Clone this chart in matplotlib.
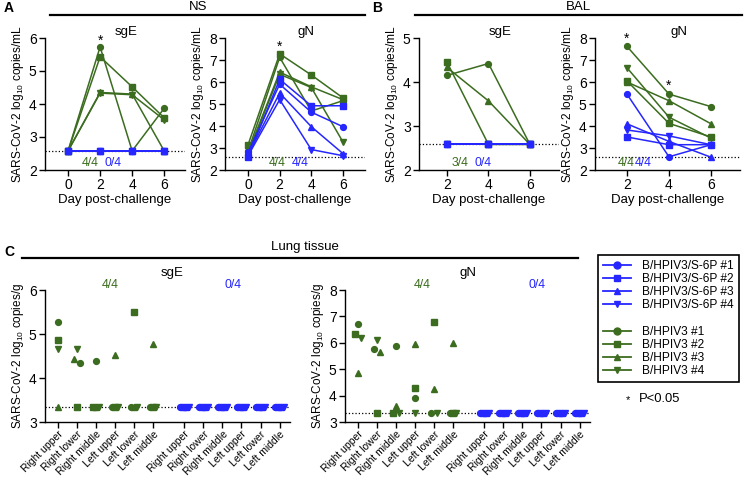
import numpy as np
import matplotlib
matplotlib.use('Agg')
import matplotlib.pyplot as plt
from matplotlib.lines import Line2D

plt.rcParams['font.family'] = ['Liberation Sans', 'DejaVu Sans']
plt.rcParams['mathtext.fontset'] = 'custom'
plt.rcParams['mathtext.rm'] = 'Liberation Sans'
plt.rcParams['mathtext.it'] = 'Liberation Sans:italic'

GREEN = '#3b6c1f'
BLUE = '#2626ff'
MARKERS = ['o', 's', '^', 'v']
LOD_SWAB = 2.58
LOD_LUNG = 3.33

# ---- data: rows = animal #1..#4 ----
ns_days = [0, 2, 4, 6]
ns_sge_s6p = [
    [2.58, 2.58, 2.58, 2.58],
    [2.58, 2.58, 2.58, 2.58],
    [2.58, 2.58, 2.58, 2.58],
    [2.58, 2.58, 2.58, 2.58],
]
ns_sge_hpiv3 = [
    [2.58, 5.73, 2.58, 3.87],
    [2.58, 5.43, 4.52, 3.58],
    [2.58, 4.35, 4.30, 2.58],
    [2.58, 4.33, 4.28, 3.52],
]
ns_gn_s6p = [
    [2.80, 5.90, 4.63, 3.97],
    [2.60, 6.12, 4.92, 4.92],
    [2.70, 5.50, 3.97, 2.75],
    [2.65, 5.20, 2.93, 2.65],
]
ns_gn_hpiv3 = [
    [2.85, 7.12, 4.68, 5.15],
    [3.15, 7.28, 6.32, 5.28],
    [2.80, 6.45, 5.78, 5.20],
    [2.75, 6.35, 5.75, 3.28],
]

bal_days = [2, 4, 6]
bal_sge_s6p = [
    [2.58, 2.58, 2.58],
    [2.58, 2.58, 2.58],
    [2.58, 2.58, 2.58],
    [2.58, 2.58, 2.58],
]
bal_sge_hpiv3 = [
    [4.15, 4.42, 2.58],
    [4.45, 2.58, 2.58],
    [4.33, 3.57, 2.58],
    [2.58, 2.58, 2.58],
]
bal_gn_s6p = [
    [5.45, 2.60, 3.15],
    [3.50, 3.15, 3.15],
    [4.10, 3.30, 2.58],
    [3.82, 3.55, 3.15],
]
bal_gn_hpiv3 = [
    [7.62, 5.45, 4.88],
    [6.05, 4.12, 3.50],
    [6.00, 5.15, 4.10],
    [6.65, 4.40, 3.45],
]

tissues = ['Right upper', 'Right lower', 'Right middle',
           'Left upper', 'Left lower', 'Left middle']
lung_sge_hpiv3 = [
    [5.28, 4.35, 4.38, 3.33, 3.33, 3.33],
    [4.87, 3.33, 3.33, 3.33, 5.50, 3.33],
    [3.33, 4.43, 3.33, 4.53, 3.33, 4.78],
    [4.65, 4.67, 3.33, 3.33, 3.33, 3.33],
]
lung_gn_hpiv3 = [
    [6.70, 5.75, 5.88, 3.90, 3.33, 3.33],
    [6.33, 3.33, 3.33, 4.29, 6.78, 3.33],
    [4.85, 5.65, 3.62, 5.95, 4.25, 6.00],
    [6.18, 6.10, 3.33, 3.33, 3.33, 3.33],
]
lung_sge_s6p = [[3.33] * 6 for _ in range(4)]
lung_gn_s6p = [[3.33] * 6 for _ in range(4)]

s6p_labels = ['B/HPIV3/S-6P #%d' % (i + 1) for i in range(4)]
hpiv3_labels = ['B/HPIV3 #%d' % (i + 1) for i in range(4)]

W, H = 747, 479
fig = plt.figure(figsize=(W / 100, H / 100), dpi=100)


def px_axes(l, t, r, b):
    return fig.add_axes([l / W, 1 - b / H, (r - l) / W, (b - t) / H])


def fig_text(x, y, s, **kw):
    fig.text(x / W, 1 - y / H, s, **kw)


def style(ax, ylabel, fs):
    for side in ['top', 'right']:
        ax.spines[side].set_visible(False)
    for side in ['left', 'bottom']:
        ax.spines[side].set_linewidth(1.0)
    ax.tick_params(direction='out', length=4, width=1.0, labelsize=10, pad=2)
    ax.set_ylabel(ylabel, fontsize=fs, labelpad=2)


def time_panel(ax, days, s6p, hpiv3, ylim, xlim, title):
    ax.axhline(LOD_SWAB, color='black', ls=':', lw=0.9, zorder=1)
    for i in range(4):
        ax.plot(days, hpiv3[i], color=GREEN, marker=MARKERS[i], ms=4.2, lw=1.1, zorder=3)
    for i in range(4):
        ax.plot(days, s6p[i], color=BLUE, marker=MARKERS[i], ms=4.2, lw=1.1, zorder=4)
    ax.set_xticks(days)
    ax.set_xlim(*xlim)
    ax.set_ylim(*ylim)
    ax.set_yticks(np.arange(ylim[0], ylim[1] + 1))
    style(ax, 'SARS-CoV-2 log$_{10}$ copies/mL', 8.6)
    ax.set_xlabel('Day post-challenge', fontsize=9.5, labelpad=1)
    ax.set_title(title, fontsize=9.5, pad=0, x=0.58)


def swarm(vals, tol):
    vals = np.asarray(vals, dtype=float)
    order = np.argsort(-vals, kind='stable')
    clusters = []
    for i in order:
        if clusters and abs(vals[clusters[-1][-1]] - vals[i]) <= tol:
            clusters[-1].append(i)
        else:
            clusters.append([i])
    offs = np.zeros(len(vals))
    for c in clusters:
        n = len(c)
        d = 0.34 if n == 2 else 0.17
        for k, i in enumerate(c):
            offs[i] = (k - (n - 1) / 2) * d
    return offs


def lung_panel(ax, hpiv3, s6p, ylim, tol, title):
    x1 = np.arange(len(tissues))
    x2 = x1 + 6.65
    ax.axhline(LOD_LUNG, color='black', ls=':', lw=0.9, zorder=1)
    for xs, data, col in [(x1, hpiv3, GREEN), (x2, s6p, BLUE)]:
        data = np.asarray(data)
        offs = np.array([swarm(data[:, j], tol) for j in range(len(tissues))]).T
        for i in range(4):
            ax.plot(xs + offs[i], data[i], ls='none', marker=MARKERS[i], ms=4.2,
                    color=col, zorder=3)
    ax.set_xticks(np.concatenate([x1, x2]))
    ax.set_xticklabels(tissues * 2, rotation=45, ha='right', rotation_mode='anchor')
    ax.set_xlim(-0.68, 12.2)
    ax.set_ylim(*ylim)
    ax.set_yticks(np.arange(ylim[0], ylim[1] + 1))
    style(ax, 'SARS-CoV-2 log$_{10}$ copies/g', 8.5)
    ax.tick_params(axis='x', labelsize=7.5, pad=1)
    ax.set_title(title, fontsize=9.5, pad=10, x=0.5 if title == 'gN' else 0.52)


# ---- panel A ----
ax = px_axes(45, 38, 185, 170)
time_panel(ax, ns_days, ns_sge_s6p, ns_sge_hpiv3, (2, 6), (-1.44, 7.3), 'sgE')
ax.text(2, 5.92, '*', ha='center', va='center', fontsize=10)

ax = px_axes(225, 38, 365, 170)
time_panel(ax, ns_days, ns_gn_s6p, ns_gn_hpiv3, (2, 8), (-1.46, 7.4), 'gN')
ax.text(2, 7.62, '*', ha='center', va='center', fontsize=10)

# ---- panel B ----
ax = px_axes(419, 38, 559, 170)
time_panel(ax, bal_days, bal_sge_s6p, bal_sge_hpiv3, (2, 5), (0.65, 7.4), 'sgE')

ax = px_axes(595, 38, 740, 170)
time_panel(ax, bal_days, bal_gn_s6p, bal_gn_hpiv3, (2, 8), (0.48, 7.38), 'gN')
ax.text(2, 7.98, '*', ha='center', va='center', fontsize=10)
ax.text(4, 5.82, '*', ha='center', va='center', fontsize=10)

# detection counts
for x, s, c in [(90, '4/4', GREEN), (113, '0/4', BLUE), (277, '4/4', GREEN), (300, '4/4', BLUE),
                (460, '3/4', GREEN), (483, '0/4', BLUE), (626, '4/4', GREEN), (643, '4/4', BLUE)]:
    fig_text(x, 163, s, color=c, fontsize=8.8, ha='center', va='center')

# ---- panel C ----
ax = px_axes(45, 290, 290, 422)
lung_panel(ax, lung_sge_hpiv3, lung_sge_s6p, (3, 6), 0.14, 'sgE')
ax = px_axes(345, 290, 590, 422)
lung_panel(ax, lung_gn_hpiv3, lung_gn_s6p, (3, 8), 0.23, 'gN')

for x, s, c in [(110, '4/4', GREEN), (233, '0/4', BLUE), (422, '4/4', GREEN), (537, '0/4', BLUE)]:
    fig_text(x, 285, s, color=c, fontsize=8.8, ha='center', va='center')

# ---- headers ----
fig.add_artist(Line2D([50 / W, 365 / W], [1 - 15 / H, 1 - 15 / H], color='black', lw=1.6))
fig.add_artist(Line2D([415 / W, 742 / W], [1 - 15 / H, 1 - 15 / H], color='black', lw=1.6))
fig.add_artist(Line2D([22 / W, 578 / W], [1 - 258 / H, 1 - 258 / H], color='black', lw=1.6))
fig_text(198, 7, 'NS', fontsize=9.5, ha='center', va='center')
fig_text(578, 7, 'BAL', fontsize=9.5, ha='center', va='center')
fig_text(305, 247, 'Lung tissue', fontsize=9.5, ha='center', va='center')
fig_text(4, 8, 'A', fontsize=10, fontweight='bold', ha='left', va='center')
fig_text(372, 8, 'B', fontsize=10, fontweight='bold', ha='left', va='center')
fig_text(4, 252, 'C', fontsize=10, fontweight='bold', ha='left', va='center')

# ---- legend ----
handles = [Line2D([], [], color=BLUE, marker=m, ms=5, lw=1.3) for m in MARKERS]
handles += [Line2D([], [], ls='none')]
handles += [Line2D([], [], color=GREEN, marker=m, ms=5, lw=1.3) for m in MARKERS]
labels = s6p_labels + [' '] + hpiv3_labels
leg = fig.legend(handles, labels, loc='upper left', bbox_to_anchor=(598 / W, 1 - 255 / H),
                 fontsize=8.6, frameon=True, fancybox=False, edgecolor='black',
                 framealpha=1, handlelength=2.4, labelspacing=0.1, borderpad=0.4,
                 handletextpad=0.9, borderaxespad=0, handleheight=0.6)
leg.get_frame().set_linewidth(1.2)
fig_text(628, 400, '*', fontsize=8, ha='center', va='center')
fig_text(639, 399, 'P<0.05', fontsize=9.4, ha='left', va='center')

fig.savefig('out.png', dpi=100)
